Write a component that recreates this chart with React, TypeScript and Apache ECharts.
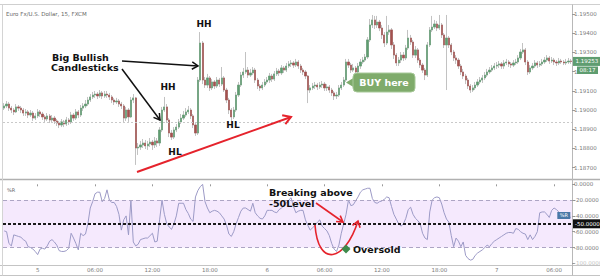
import React, { useEffect, useRef } from "react";
import * as echarts from "echarts";

// ---------- DATA ----------
const firstOpen = 1.1901;
const closes = [
  1.19021, 1.19031, 1.1901, 1.19, 1.1899, 1.19016, 1.1901, 1.19, 1.18984, 1.1899,
  1.18974, 1.18984, 1.18958, 1.18969, 1.1899, 1.18979, 1.18964, 1.18953, 1.18969, 1.18948,
  1.18958, 1.18943, 1.18932, 1.18922, 1.18938, 1.18927, 1.18948, 1.18938, 1.18974, 1.18958,
  1.1899, 1.18974, 1.1901, 1.19021, 1.19031, 1.19052, 1.19068, 1.19078, 1.19083, 1.19073,
  1.19089, 1.19073, 1.19083, 1.19078, 1.19068, 1.19052, 1.19042, 1.19047, 1.19031, 1.19021,
  1.18958, 1.19, 1.18964, 1.19052, 1.19063, 1.18802, 1.18807, 1.18818, 1.18828, 1.18813,
  1.18823, 1.18833, 1.18818, 1.18839, 1.18828, 1.18896, 1.19, 1.19016, 1.18948, 1.1888,
  1.18859, 1.18896, 1.18911, 1.18938, 1.18958, 1.18974, 1.1899, 1.19, 1.18969, 1.18922,
  1.1888, 1.19156, 1.19349, 1.19156, 1.1913, 1.19167, 1.19115, 1.19146, 1.19125, 1.19156,
  1.19135, 1.19167, 1.19104, 1.19052, 1.19, 1.18964, 1.19, 1.19078, 1.1913, 1.19182,
  1.19198, 1.19208, 1.19182, 1.19193, 1.19208, 1.19156, 1.19125, 1.19115, 1.1913, 1.19146,
  1.19156, 1.19177, 1.19161, 1.19188, 1.19203, 1.19193, 1.19219, 1.19208, 1.19229, 1.1924,
  1.19245, 1.19234, 1.1925, 1.19229, 1.19208, 1.19198, 1.19177, 1.19104, 1.19115, 1.19125,
  1.1913, 1.1912, 1.1913, 1.19135, 1.19115, 1.1912, 1.19104, 1.19089, 1.19073, 1.19078,
  1.19115, 1.1913, 1.19156, 1.1925, 1.19234, 1.19208, 1.19219, 1.19198, 1.19229, 1.1925,
  1.1926, 1.19276, 1.19365, 1.19443, 1.19469, 1.19443, 1.19458, 1.19427, 1.19391, 1.19349,
  1.19406, 1.19417, 1.19339, 1.19286, 1.19245, 1.1926, 1.19286, 1.19271, 1.19323, 1.19375,
  1.19354, 1.19286, 1.19313, 1.1926, 1.19234, 1.19208, 1.19182, 1.19339, 1.19417, 1.19432,
  1.19448, 1.19427, 1.19443, 1.19391, 1.19339, 1.19375, 1.19339, 1.19302, 1.19271, 1.1926,
  1.19229, 1.19198, 1.19177, 1.19156, 1.19125, 1.19104, 1.19115, 1.1913, 1.19146, 1.19156,
  1.19167, 1.19182, 1.19198, 1.19208, 1.19219, 1.19229, 1.19234, 1.1924, 1.19229, 1.19245,
  1.1925, 1.1924, 1.19234, 1.19245, 1.1925, 1.19271, 1.19302, 1.19313, 1.1925, 1.19198,
  1.19219, 1.19229, 1.19245, 1.19234, 1.1924, 1.1925, 1.1926, 1.19271, 1.19255, 1.1926,
  1.1925, 1.19245, 1.19255, 1.1925, 1.19245, 1.1925, 1.19255, 1.19253,
];
const highs = [
  1.19036, 1.19047, 1.19042, 1.19021, 1.1901, 1.19031, 1.19026, 1.19021, 1.1901, 1.19005,
  1.19, 1.19, 1.18995, 1.18984, 1.19005, 1.19, 1.1899, 1.18974, 1.18984, 1.18979,
  1.18974, 1.18969, 1.18953, 1.18943, 1.18953, 1.18948, 1.18964, 1.18958, 1.1899, 1.18984,
  1.19005, 1.19, 1.19026, 1.19036, 1.19052, 1.19068, 1.19083, 1.19094, 1.19099, 1.19094,
  1.19104, 1.19099, 1.19099, 1.19099, 1.19089, 1.19078, 1.19063, 1.19063, 1.19057, 1.19042,
  1.19031, 1.19016, 1.1901, 1.19068, 1.19083, 1.19068, 1.18828, 1.18839, 1.18849, 1.18844,
  1.18839, 1.18854, 1.18844, 1.18859, 1.18854, 1.18911, 1.19016, 1.19068, 1.19031, 1.18958,
  1.18896, 1.18911, 1.18927, 1.18953, 1.18979, 1.18995, 1.1901, 1.19021, 1.1901, 1.18979,
  1.18932, 1.19172, 1.19406, 1.19359, 1.19172, 1.19188, 1.19177, 1.19161, 1.19156, 1.19172,
  1.19167, 1.19224, 1.19177, 1.19115, 1.19063, 1.1901, 1.19016, 1.19094, 1.19146, 1.19198,
  1.19219, 1.19302, 1.19224, 1.19214, 1.19224, 1.19219, 1.19167, 1.19135, 1.19146, 1.19161,
  1.19172, 1.19193, 1.19188, 1.19203, 1.19219, 1.19214, 1.19234, 1.19229, 1.19245, 1.19255,
  1.1926, 1.19255, 1.19266, 1.1926, 1.1924, 1.19219, 1.19208, 1.19182, 1.1913, 1.19141,
  1.19146, 1.19141, 1.19146, 1.19151, 1.19146, 1.19135, 1.1913, 1.19115, 1.19099, 1.19094,
  1.1913, 1.19146, 1.19172, 1.19266, 1.19266, 1.19245, 1.1924, 1.19229, 1.19245, 1.19266,
  1.19276, 1.19292, 1.1938, 1.19474, 1.19495, 1.1949, 1.1949, 1.19469, 1.19443, 1.19406,
  1.1949, 1.19443, 1.19427, 1.19354, 1.19297, 1.19276, 1.19302, 1.19302, 1.19339, 1.19417,
  1.19391, 1.19365, 1.19333, 1.19323, 1.19271, 1.19245, 1.19219, 1.19354, 1.19432, 1.1949,
  1.19469, 1.19464, 1.19495, 1.19453, 1.19401, 1.19495, 1.19385, 1.19349, 1.19313, 1.19286,
  1.19271, 1.1924, 1.19214, 1.19188, 1.19167, 1.19135, 1.1913, 1.19146, 1.19161, 1.19172,
  1.19182, 1.19198, 1.19214, 1.19224, 1.19234, 1.19245, 1.1925, 1.19255, 1.1925, 1.1926,
  1.19266, 1.1926, 1.1925, 1.1926, 1.19266, 1.19286, 1.19318, 1.19349, 1.19323, 1.1926,
  1.19234, 1.19245, 1.1926, 1.19255, 1.19255, 1.19266, 1.19276, 1.19286, 1.19281, 1.19276,
  1.19271, 1.1926, 1.19271, 1.19266, 1.1926, 1.19266, 1.19271, 1.19266,
];
const lows = [
  1.19, 1.1901, 1.18995, 1.18984, 1.18974, 1.18984, 1.18995, 1.18984, 1.18969, 1.18969,
  1.18958, 1.18964, 1.18943, 1.18948, 1.18958, 1.18964, 1.18948, 1.18932, 1.18943, 1.18932,
  1.18932, 1.18927, 1.18917, 1.18906, 1.18911, 1.18911, 1.18917, 1.18922, 1.18927, 1.18943,
  1.18948, 1.18958, 1.18964, 1.18995, 1.1901, 1.19021, 1.19042, 1.19057, 1.19063, 1.19057,
  1.19063, 1.19057, 1.19063, 1.19063, 1.19052, 1.19036, 1.19026, 1.19031, 1.19016, 1.19005,
  1.18932, 1.18943, 1.18938, 1.18958, 1.19036, 1.18714, 1.18766, 1.18792, 1.18802, 1.18797,
  1.18792, 1.18807, 1.18792, 1.18802, 1.18807, 1.18813, 1.18885, 1.1899, 1.18932, 1.18859,
  1.18844, 1.18849, 1.18885, 1.18901, 1.18927, 1.18948, 1.18964, 1.18979, 1.18953, 1.18906,
  1.18865, 1.1887, 1.19146, 1.19135, 1.19115, 1.19115, 1.19099, 1.19104, 1.19109, 1.19115,
  1.1912, 1.19125, 1.19094, 1.19036, 1.18979, 1.18938, 1.18953, 1.1899, 1.19068, 1.1912,
  1.19167, 1.19188, 1.19167, 1.19172, 1.19182, 1.19141, 1.19109, 1.19099, 1.19104, 1.1912,
  1.19135, 1.19141, 1.19146, 1.19151, 1.19177, 1.19177, 1.19182, 1.19193, 1.19198, 1.19219,
  1.19224, 1.19219, 1.19224, 1.19214, 1.19193, 1.19182, 1.19161, 1.19036, 1.19089, 1.19104,
  1.19109, 1.19104, 1.19109, 1.19115, 1.19099, 1.19099, 1.19089, 1.19073, 1.19052, 1.19057,
  1.19068, 1.19104, 1.1912, 1.19146, 1.19219, 1.19193, 1.19198, 1.19182, 1.19188, 1.19214,
  1.1924, 1.1925, 1.19266, 1.19354, 1.19427, 1.19422, 1.19427, 1.19411, 1.1937, 1.19328,
  1.19339, 1.19391, 1.19318, 1.19266, 1.19229, 1.19229, 1.19245, 1.19255, 1.1926, 1.19313,
  1.19339, 1.19271, 1.19271, 1.19245, 1.19219, 1.19193, 1.19156, 1.19172, 1.19328, 1.19406,
  1.19422, 1.19411, 1.19417, 1.19375, 1.19323, 1.19104, 1.19323, 1.19286, 1.19255, 1.1924,
  1.19214, 1.19182, 1.19161, 1.19135, 1.19109, 1.19089, 1.19094, 1.19104, 1.1912, 1.19135,
  1.19141, 1.19156, 1.19172, 1.19188, 1.19198, 1.19208, 1.19214, 1.19219, 1.19214, 1.19214,
  1.19234, 1.19224, 1.19219, 1.19224, 1.19234, 1.1924, 1.1926, 1.19292, 1.19234, 1.19182,
  1.19188, 1.19208, 1.19219, 1.19219, 1.19224, 1.19229, 1.1924, 1.1925, 1.1924, 1.19245,
  1.19234, 1.19229, 1.19234, 1.1924, 1.19234, 1.19234, 1.1924, 1.1924,
];
const williamsR = [
  -59, -60, -75, -78, -64, -65, -66, -67, -70, -72,
  -79, -80, -82, -85, -89, -82, -81, -82, -78, -72,
  -70, -73, -77, -84, -85, -85, -84, -81, -62, -68,
  -75, -83, -62, -65, -63, -50, -30, -22, -12, -10,
  -10, -22, -18, -7, -20, -23, -23, -28, -38, -58,
  -45, -40, -64, -20, -73, -78, -76, -70, -69, -68,
  -68, -65, -62, -73, -72, -45, -20, -38, -50, -54,
  -57, -50, -40, -24, -24, -24, -32, -37, -44, -47,
  -16, -8, -3, 0, -22, -30, -36, -34, -33, -34,
  -36, -40, -44, -52, -63, -66, -60, -50, -42, -34,
  -30, -30, -32, -34, -24, -36, -40, -43, -44, -40,
  -33, -33, -33, -35, -36, -32, -30, -27, -24, -20,
  -17, -28, -36, -34, -33, -33, -45, -52, -58, -55,
  -52, -48, -45, -53, -56, -59, -65, -75, -82, -85,
  -77, -62, -50, -38, -20, -27, -26, -21, -16, -10,
  -7, -6, -5, -5, -18, -23, -24, -22, -21, -19,
  -16, -17, -28, -38, -44, -50, -53, -50, -43, -32,
  -29, -38, -43, -46, -50, -62, -68, -70, -35, -20,
  -17, -16, -17, -25, -36, -44, -48, -65, -79, -68,
  -72, -79, -73, -90, -94, -96, -95, -90, -87, -85,
  -83, -80, -77, -79, -75, -72, -70, -68, -66, -64,
  -62, -61, -61, -62, -56, -57, -60, -62, -63, -70,
  -64, -70, -66, -60, -36, -35, -35, -38, -42, -33,
  -30, -32, -35, -39, -40, -41, -40, -42,
];
const priceTicks = [1.187, 1.188, 1.189, 1.19, 1.191, 1.192, 1.193, 1.194, 1.195];
const refLevel = 1.18938;
const countdown = "08:17";
const startDay = 4;
const startMinute = 20 * 60 + 30;
const barMinutes = 15;
const wrLevels = { upper: -20, mid: -50, lower: -80 };

const FONT = "DejaVu Sans";

function buildCategories(n: number) {
  const out: string[] = [];
  for (let i = 0; i < n; i++) {
    const t = startMinute + i * barMinutes;
    const day = startDay + Math.floor(t / 1440);
    const m = t % 1440;
    const hh = String(Math.floor(m / 60)).padStart(2, "0");
    const mm = String(m % 60).padStart(2, "0");
    out.push(`${day}|${hh}:${mm}`);
  }
  return out;
}

function isMajor(v: string) {
  const [, time] = v.split("|");
  const [h, m] = time.split(":").map(Number);
  return m === 0 && h % 6 === 0;
}

function chevron(x1: number, y1: number, x2: number, y2: number, len: number, ang: number) {
  const t = Math.atan2(y2 - y1, x2 - x1);
  return [
    [x2 - len * Math.cos(t - ang), y2 - len * Math.sin(t - ang)],
    [x2, y2],
    [x2 - len * Math.cos(t + ang), y2 - len * Math.sin(t + ang)],
  ];
}

function arrow(x1: number, y1: number, x2: number, y2: number, color: string, w: number, len: number) {
  return [
    { type: "line", z: 100, shape: { x1, y1, x2, y2 }, style: { stroke: color, lineWidth: w } },
    { type: "polyline", z: 100, shape: { points: chevron(x1, y1, x2, y2, len, 0.55) }, style: { stroke: color, lineWidth: w, fill: null } },
  ];
}

function txt(x: number, y: number, text: string, size: number, opts: any = {}) {
  return {
    type: "text",
    z: 110,
    x,
    y,
    style: {
      text,
      fill: opts.fill || "#111",
      fontSize: size,
      fontWeight: opts.weight || "bold",
      fontFamily: FONT,
      textAlign: opts.align || "left",
      textVerticalAlign: "middle",
    },
  };
}

export default function App() {
  const ref = useRef<HTMLDivElement>(null);

  useEffect(() => {
    if (!ref.current) return;
    const chart = echarts.init(ref.current, undefined, { renderer: "svg" });
    const n = closes.length;
    const cats = buildCategories(n);
    const opens = closes.map((c, i) => (i === 0 ? firstOpen : closes[i - 1]));
    const full = closes.map((c, i) => [opens[i], c, lows[i], highs[i]]);
    const bodies = closes.map((c, i) => [opens[i], c, Math.min(opens[i], c), Math.max(opens[i], c)]);
    const lastIdx = n - 1;

    const up = "#5f9d70";
    const down = "#a4514e";
    const wick = "#c2c2c2";
    const red = "#e5232c";

    const curveEnd = [358, 221];
    const curveCp2 = [345, 262];

    const graphicEls: any[] = [
      // frame
      { type: "line", shape: { x1: 0, y1: 4.5, x2: 600, y2: 4.5 }, style: { stroke: "#cfcfcf", lineWidth: 1 } },
      { type: "line", shape: { x1: 0, y1: 179.5, x2: 600, y2: 179.5 }, style: { stroke: "#b0b0b0", lineWidth: 1.5 } },
      { type: "line", shape: { x1: 0, y1: 265.5, x2: 600, y2: 265.5 }, style: { stroke: "#c4c4c4", lineWidth: 1 } },
      { type: "line", shape: { x1: 0, y1: 275.5, x2: 600, y2: 275.5 }, style: { stroke: "#c4c4c4", lineWidth: 1 } },
      { type: "line", shape: { x1: 572.5, y1: 4.5, x2: 572.5, y2: 275.5 }, style: { stroke: "#b8b8b8", lineWidth: 1 } },
      { type: "line", shape: { x1: 2.5, y1: 4.5, x2: 2.5, y2: 275.5 }, style: { stroke: "#d4d4d4", lineWidth: 1 } },
      // titles
      txt(6, 14, "Euro Fx/U.S. Dollar, 15, FXCM", 5.5, { weight: "normal", fill: "#666" }),
      txt(7, 190, "%R", 5, { weight: "normal", fill: "#666" }),
      // annotations price pane
      txt(52, 57, "Big Bullish", 9.5),
      txt(51, 67.5, "Candlesticks", 9.5),
      ...arrow(122, 61, 198, 66, "#111", 1.5, 7),
      ...arrow(122, 69, 160, 120, "#111", 1.5, 7),
      txt(168, 87, "HH", 9, { align: "center" }),
      txt(204, 24, "HH", 9, { align: "center" }),
      txt(175, 152, "HL", 9, { align: "center" }),
      txt(233, 125, "HL", 9, { align: "center" }),
      ...arrow(137, 172, 291, 117, red, 2, 9),
      // BUY here callout
      { type: "polygon", z: 105, shape: { points: [[355, 77], [346, 82.5], [355, 88]] }, style: { fill: "#7fab6b" } },
      { type: "rect", z: 105, shape: { x: 353, y: 73, width: 62, height: 19, r: 4 }, style: { fill: "#7fab6b", stroke: "#a8c99a", lineWidth: 1 } },
      txt(384, 82.5, "BUY here", 9.5, { fill: "#fff", align: "center" }),
      // countdown box
      { type: "rect", z: 105, shape: { x: 577, y: 66.5, width: 21, height: 7.5 }, style: { fill: up } },
      txt(587.5, 70.3, countdown, 5.5, { fill: "#fff", weight: "normal", align: "center" }),
      // %R pane annotations
      txt(269, 192, "Breaking above", 9.5),
      txt(269, 203, "-50Level", 9.5),
      ...arrow(316, 203, 343, 222, red, 1.6, 7),
      {
        type: "bezierCurve",
        z: 100,
        shape: { x1: 315, y1: 225, cpx1: 318, cpy1: 268, cpx2: curveCp2[0], cpy2: curveCp2[1], x2: curveEnd[0], y2: curveEnd[1] },
        style: { stroke: red, lineWidth: 1.6, fill: null },
      },
      {
        type: "polyline",
        z: 100,
        shape: { points: chevron(curveCp2[0], curveCp2[1], curveEnd[0], curveEnd[1], 7, 0.6) },
        style: { stroke: red, lineWidth: 1.6, fill: null },
      },
      { type: "polygon", z: 105, shape: { points: [[346, 244.5], [350.5, 249], [346, 253.5], [341.5, 249]] }, style: { fill: "#3e8a4b" } },
      txt(353, 249.5, "Oversold", 9.5),
    ];

    const axisLabelBase = { fontSize: 5.5, color: "#7a7a7a", fontFamily: FONT };

    chart.setOption({
      animation: false,
      backgroundColor: "#fff",
      grid: [
        { left: 3, right: 28, top: 4.4, height: 172.8, outerBoundsMode: "none", containLabel: false },
        { left: 3, right: 28, top: 184.3, height: 79, outerBoundsMode: "none", containLabel: false },
      ],
      xAxis: [
        {
          type: "category",
          gridIndex: 0,
          data: cats,
          boundaryGap: true,
          axisLine: { show: false },
          axisTick: { show: false },
          axisLabel: { show: false },
          splitLine: { show: false },
        },
        {
          type: "category",
          gridIndex: 1,
          data: cats,
          boundaryGap: true,
          axisLine: { show: false },
          axisTick: {
            show: true,
            alignWithLabel: true,
            interval: (i: number, v: string) => isMajor(v),
            length: 2,
            lineStyle: { color: "#999" },
          },
          axisLabel: {
            ...axisLabelBase,
            margin: 4,
            interval: (i: number, v: string) => isMajor(v),
            formatter: (v: string) => {
              const [day, time] = v.split("|");
              return time === "00:00" ? day : time;
            },
          },
          splitLine: { show: false },
        },
      ],
      yAxis: [
        {
          type: "value",
          gridIndex: 0,
          position: "right",
          min: 1.1865,
          max: 1.1955,
          splitLine: { show: false },
          axisLine: { show: false },
          axisTick: { show: true, customValues: priceTicks, length: 3, lineStyle: { color: "#999" } },
          axisLabel: { ...axisLabelBase, margin: 2, customValues: priceTicks, formatter: (v: number) => v.toFixed(5) },
        },
        {
          type: "value",
          gridIndex: 1,
          position: "right",
          min: -100,
          max: 0,
          interval: 20,
          splitLine: { show: false },
          axisLine: { show: false },
          axisTick: { show: true, length: 3, lineStyle: { color: "#999" } },
          axisLabel: {
            ...axisLabelBase,
            margin: 2,
            formatter: (v: number) => v.toFixed(4),
            color: (v: any) => (Number(v) <= -100 ? "#c4c4c4" : "#7a7a7a"),
          },
        },
      ],
      series: [
        {
          type: "candlestick",
          name: "wicks",
          xAxisIndex: 0,
          yAxisIndex: 0,
          data: full,
          barWidth: 1.7,
          silent: true,
          itemStyle: { color: wick, color0: wick, borderColor: wick, borderColor0: wick, borderWidth: 1 },
          markLine: {
            symbol: "none",
            silent: true,
            precision: 5,
            label: { show: false },
            lineStyle: { color: "#c9c9c9", type: [2, 2], width: 1 },
            data: [{ yAxis: refLevel }],
          },
        },
        {
          type: "candlestick",
          name: "bodies",
          xAxisIndex: 0,
          yAxisIndex: 0,
          data: bodies,
          barWidth: 1.7,
          silent: true,
          itemStyle: { color: up, color0: down, borderColor: up, borderColor0: down, borderWidth: 0.5 },
          markLine: {
            symbol: "none",
            silent: true,
            precision: 5,
            data: [
              {
                yAxis: closes[lastIdx],
                lineStyle: { color: "rgba(0,0,0,0)", width: 0.1 },
                label: {
                  show: true,
                  position: "end",
                  distance: 1,
                  formatter: (p: any) => Number(p.value).toFixed(5),
                  backgroundColor: up,
                  color: "#fff",
                  fontSize: 5.5,
                  fontFamily: FONT,
                  padding: [1.5, 2.5],
                },
              },
            ],
          },
        },
        {
          type: "line",
          name: "%R",
          xAxisIndex: 1,
          yAxisIndex: 1,
          data: williamsR,
          symbol: "none",
          silent: true,
          lineStyle: { color: "#9c9ac6", width: 1 },
          markArea: {
            silent: true,
            itemStyle: { color: "#f5e9fd" },
            data: [[{ yAxis: wrLevels.upper }, { yAxis: wrLevels.lower }]],
          },
          markLine: {
            symbol: "none",
            silent: true,
            precision: 4,
            data: [
              { yAxis: wrLevels.upper, lineStyle: { color: "#ada5c4", type: [4, 3], width: 1 }, label: { show: false } },
              { yAxis: wrLevels.lower, lineStyle: { color: "#ada5c4", type: [4, 3], width: 1 }, label: { show: false } },
              {
                yAxis: wrLevels.mid,
                lineStyle: { color: "#1a1a1a", type: [3, 2], width: 2 },
                label: {
                  show: true,
                  position: "end",
                  distance: 1,
                  formatter: (p: any) => Number(p.value).toFixed(4),
                  backgroundColor: "#111",
                  color: "#fff",
                  fontSize: 5.5,
                  fontFamily: FONT,
                  padding: [1.5, 2],
                },
              },
            ],
          },
          markPoint: {
            silent: true,
            data: [
              {
                coord: [lastIdx, williamsR[lastIdx]],
                symbol: "rect",
                symbolSize: [13, 7],
                symbolOffset: [-7, -2],
                itemStyle: { color: "#4a78a6" },
                label: { show: true, formatter: "%R", color: "#fff", fontSize: 5, fontFamily: FONT, offset: [0, 0] },
              },
            ],
          },
        },
      ],
      graphic: { elements: graphicEls },
    });

    return () => chart.dispose();
  }, []);

  return (
    <div
      ref={ref}
      style={{ position: "fixed", left: 0, top: 0, width: 600, height: 280, background: "#fff" }}
    />
  );
}
